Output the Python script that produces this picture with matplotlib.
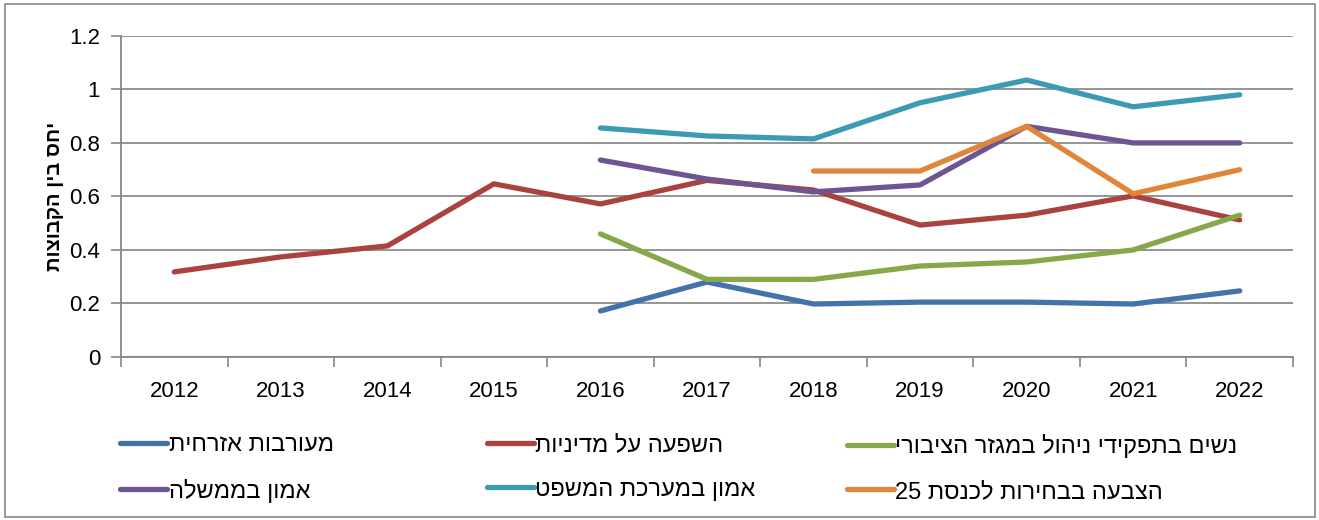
import numpy as np
from matplotlib import pyplot as plt
from matplotlib.patches import Rectangle

plt.rcParams['font.family'] = ['Liberation Sans', 'DejaVu Sans']

years = ['2012', '2013', '2014', '2015', '2016', '2017', '2018', '2019', '2020', '2021', '2022']
nan = np.nan

civic = [nan, nan, nan, nan, 0.172, 0.28, 0.198, 0.205, 0.205, 0.198, 0.247]
policy = [0.318, 0.374, 0.415, 0.647, 0.572, 0.66, 0.624, 0.493, 0.53, 0.602, 0.512]
women = [nan, nan, nan, nan, 0.46, 0.29, 0.29, 0.34, 0.355, 0.40, 0.53]
gov_trust = [nan, nan, nan, nan, 0.736, 0.665, 0.617, 0.643, 0.862, 0.80, 0.80]
court_trust = [nan, nan, nan, nan, 0.856, 0.826, 0.815, 0.95, 1.035, 0.935, 0.98]
voting = [nan, nan, nan, nan, nan, nan, 0.695, 0.695, 0.862, 0.61, 0.70]

# hebrew labels (logical order); reversed for display since matplotlib has no bidi
labels = ['מעורבות אזרחית', 'השפעה על מדיניות', 'נשים בתפקידי ניהול במגזר הציבורי',
          'אמון בממשלה', 'אמון במערכת המשפט', 'הצבעה בבחירות לכנסת']
ylabel = 'יחס בין הקבוצות'
colors = ['#4472AA', '#AA4340', '#86A84A', '#6E5592', '#3D9AB3', '#E0853A']


def heb(s):
    return s[::-1]


disp = [heb(s) for s in labels]
disp[5] = '25 ' + disp[5]

fig = plt.figure(figsize=(13.19, 5.2), dpi=100)
ax = fig.add_axes([0.0917, 0.3135, 0.8886, 0.6175])

x = np.arange(len(years))
series = [civic, policy, women, gov_trust, court_trust, voting]
lines = []
for vals, c, lab in zip(series, colors, disp):
    ln, = ax.plot(x, vals, color=c, lw=3.8, solid_capstyle='round',
                  solid_joinstyle='round', label=lab)
    lines.append(ln)

ax.set_xlim(-0.5, len(years) - 0.5)
ax.set_ylim(0, 1.2)
ax.set_yticks([0, 0.2, 0.4, 0.6, 0.8, 1.0, 1.2])
ax.set_yticklabels(['0', '0.2', '0.4', '0.6', '0.8', '1', '1.2'])
ax.set_xticks(x)
ax.set_xticklabels(years)
ax.set_xticks(np.arange(-0.5, len(years)), minor=True)
ax.tick_params(axis='x', which='major', length=0, pad=17, labelsize=16)
ax.tick_params(axis='x', which='minor', length=7, color='#868686', width=1.2)
ax.tick_params(axis='y', length=7, color='#868686', width=1.2, labelsize=16, pad=8)
ax.grid(axis='y', color='#8c8c8c', lw=1.3)
ax.set_axisbelow(True)
for s in ['top', 'right']:
    ax.spines[s].set_visible(False)
for s in ['left', 'bottom']:
    ax.spines[s].set_color('#868686')
    ax.spines[s].set_linewidth(1.3)
ax.set_ylabel(heb(ylabel), fontsize=14.5, fontweight='bold', labelpad=4)

# legend: three columns, two rows each
col_x = [0.084, 0.362, 0.635]
for i, cx in enumerate(col_x):
    fig.legend([lines[i], lines[i + 3]], [disp[i], disp[i + 3]],
               loc='upper left', bbox_to_anchor=(cx, 0.183), frameon=False,
               fontsize=17, handlelength=2.0, handletextpad=0.05,
               labelspacing=0.95, borderaxespad=0)

fig.add_artist(Rectangle((0.004, 0.006), 0.993, 0.986, transform=fig.transFigure,
                         fill=False, edgecolor='#868686', lw=1.2))

plt.savefig('out.png', dpi=100)
